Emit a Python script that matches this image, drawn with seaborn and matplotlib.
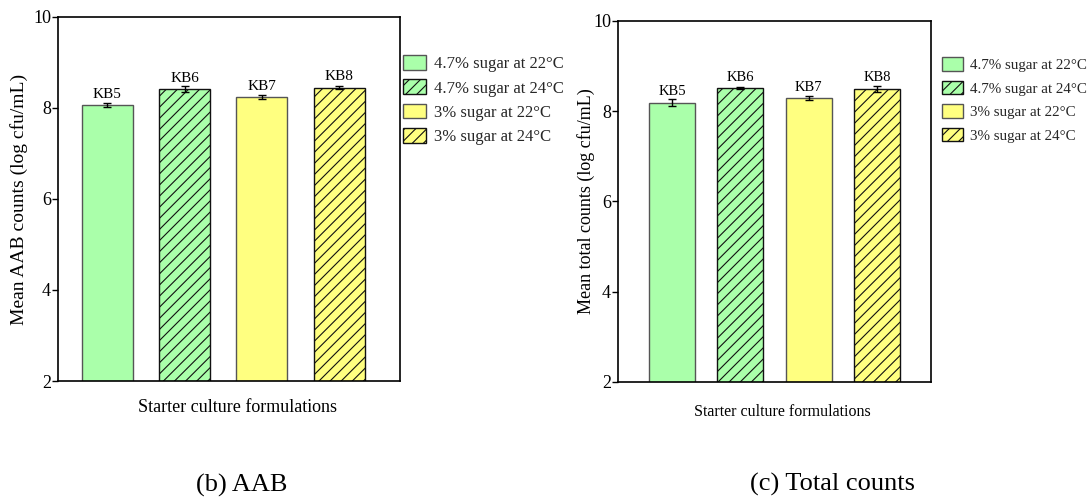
import matplotlib
matplotlib.use("Agg")
import matplotlib.pyplot as plt
import seaborn as sns
import pandas as pd
from matplotlib.patches import Patch

sns.set_theme(style="white")
plt.rcParams['font.family'] = ['Liberation Serif', 'DejaVu Serif']
plt.rcParams['hatch.linewidth'] = 0.8

categories = ["KB5", "KB6", "KB7", "KB8"]
legend_labels = ["4.7% sugar at 22°C", "4.7% sugar at 24°C",
                 "3% sugar at 22°C", "3% sugar at 24°C"]
colors = ["#aaffaa", "#aaffaa", "#ffff80", "#ffff80"]
hatches = ["", "///", "", "///"]
edge_colors = ["#555555", "#111111", "#555555", "#111111"]

aab_mean = [8.07, 8.42, 8.24, 8.45]
aab_err = [0.05, 0.07, 0.04, 0.04]
total_mean = [8.19, 8.52, 8.29, 8.50]
total_err = [0.07, 0.02, 0.05, 0.07]

yticks = [2, 4, 6, 8, 10]

fig = plt.figure(figsize=(10.91, 4.97), dpi=100)
ax1 = fig.add_axes([0.0532, 0.2334, 0.3135, 0.7324])
ax2 = fig.add_axes([0.5665, 0.2314, 0.2869, 0.7264])


def draw(ax, means, errs, ylabel, xlim, width, leg_x, leg_y, xlab_y,
         kb_fs, xlab_fs, ylab_fs, ylab_pad, leg_fs, leg_space, handle_len,
         handle_h):
    df = pd.DataFrame({"cat": categories, "val": means, "leg": legend_labels})
    sns.barplot(data=df, x="cat", y="val", hue="leg", palette=colors,
                dodge=False, width=width, ax=ax, legend=False, saturation=1)
    for i, p in enumerate(ax.patches):
        p.set_edgecolor(edge_colors[i])
        p.set_linewidth(1.0)
        p.set_hatch(hatches[i])
    ax.errorbar(x=list(range(len(categories))), y=means, yerr=errs,
                fmt="none", ecolor="black", elinewidth=1.0, capsize=3,
                capthick=1.0)
    for i, c in enumerate(ax.containers):
        if hasattr(c, "patches"):
            ax.bar_label(c, labels=[categories[i]], padding=3, fontsize=kb_fs,
                         color="black")
    ax.set_ylim(2, 10)
    ax.set_xlim(*xlim)
    ax.set_yticks(yticks)
    ax.set_yticklabels([str(t) for t in yticks], fontsize=13)
    ax.set_xticks([])
    ax.set_xlabel("Starter culture formulations", fontsize=xlab_fs,
                  color="black")
    ax.xaxis.set_label_coords(0.525, xlab_y)
    ax.set_ylabel(ylabel, fontsize=ylab_fs, color="black", labelpad=ylab_pad)
    ax.tick_params(axis="y", direction="out", length=4, width=1,
                   left=True, colors="black", pad=1)
    for s in ax.spines.values():
        s.set_visible(True)
        s.set_color("black")
        s.set_linewidth(1.2)
    handles = []
    for i in range(4):
        handles.append(Patch(facecolor=colors[i], edgecolor=edge_colors[i],
                             hatch=hatches[i], linewidth=1.0,
                             label=legend_labels[i]))
    ax.legend(handles=handles, loc="upper left",
              bbox_to_anchor=(leg_x, leg_y),
              frameon=False, fontsize=leg_fs, handlelength=handle_len,
              handleheight=handle_h, handletextpad=0.45,
              labelspacing=leg_space, borderaxespad=0, borderpad=0)


draw(ax1, aab_mean, aab_err, "Mean AAB counts (log cfu/mL)",
     (-0.64, 3.79), 0.66, 1.009, 0.895, -0.05,
     11, 13, 14, 4, 12, 0.42, 1.4, 1.0)
draw(ax2, total_mean, total_err, "Mean total counts (log cfu/mL)",
     (-0.79, 3.79), 0.67, 1.035, 0.9, -0.06,
     10.5, 11.5, 13, -1.5, 10.8, 0.56, 1.4, 1.05)

fig.text(242 / 1091, 1 - 485 / 497, "(b) AAB", ha="center", va="center",
         fontsize=19, color="black")
fig.text(833 / 1091, 1 - 484 / 497, "(c) Total counts", ha="center",
         va="center", fontsize=19, color="black")

fig.savefig("out.png", dpi=100)
